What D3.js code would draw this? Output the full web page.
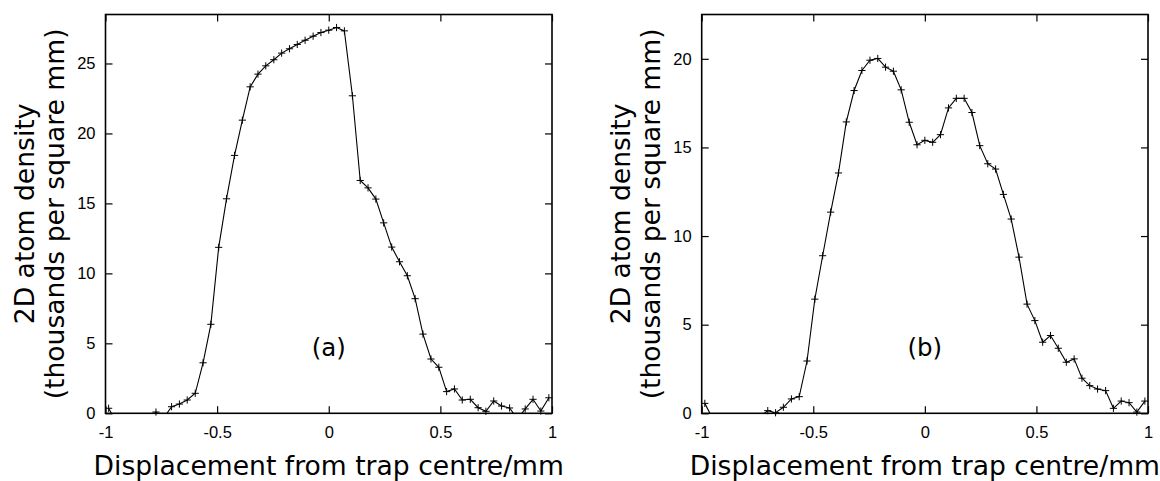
<!DOCTYPE html>
<html>
<head>
<meta charset="utf-8">
<script src="https://cdn.jsdelivr.net/npm/d3@7"></script>
<style>
  html, body { margin: 0; padding: 0; background: #fff; }
  svg { display: block; }
</style>
</head>
<body>
<svg id="chart" width="1160" height="481"></svg>
<script>
// ---- data ----
const displacement = [-0.986, -0.950, -0.915, -0.880, -0.845, -0.810, -0.774, -0.739, -0.704, -0.669,
  -0.634, -0.598, -0.563, -0.528, -0.493, -0.458, -0.422, -0.387, -0.352, -0.317,
  -0.282, -0.246, -0.211, -0.176, -0.141, -0.106, -0.070, -0.035, 0.000, 0.035,
  0.070, 0.106, 0.141, 0.176, 0.211, 0.246, 0.282, 0.317, 0.352, 0.387,
  0.422, 0.458, 0.493, 0.528, 0.563, 0.598, 0.634, 0.669, 0.704, 0.739,
  0.774, 0.810, 0.845, 0.880, 0.915, 0.950, 0.986];

const densityA = [0.36, -0.67, -0.9, -0.7, -0.8, -0.5, 0.09, -0.33, 0.47, 0.66,
  0.95, 1.43, 3.61, 6.36, 11.86, 15.33, 18.43, 20.95, 23.33, 24.24,
  24.83, 25.27, 25.74, 26.05, 26.36, 26.66, 26.95, 27.21, 27.38, 27.57,
  27.33, 22.69, 16.64, 16.11, 15.31, 13.61, 11.88, 10.83, 9.83, 8.19,
  5.66, 3.88, 3.29, 1.55, 1.74, 0.95, 1.00, 0.40, 0.14, 0.88,
  0.52, 0.38, -0.4, 0.31, 1.00, 0.16, 1.11];

const densityB = [0.56, -0.32, -0.6, -0.8, -0.5, -0.7, -0.4, -0.2, 0.15, 0.03,
  0.34, 0.81, 0.94, 2.95, 6.44, 8.89, 11.35, 13.56, 16.44, 18.21,
  19.34, 19.92, 20.02, 19.53, 19.30, 18.25, 16.42, 15.15, 15.40, 15.29,
  15.72, 17.23, 17.77, 17.77, 16.97, 15.10, 14.08, 13.78, 12.35, 10.96,
  8.81, 6.16, 5.23, 4.01, 4.39, 3.67, 2.88, 3.07, 1.98, 1.56,
  1.37, 1.28, 0.28, 0.69, 0.60, 0.07, 0.69];

const xTicks = [-1, -0.5, 0, 0.5, 1];
const xTickLabels = ["-1", "-0.5", "0", "0.5", "1"];
const yTicksA = [0, 5, 10, 15, 20, 25];
const yTicksB = [0, 5, 10, 15, 20];
const panelLabels = ["(a)", "(b)"];
const xTitle = "Displacement from trap centre/mm";
const yTitle1 = "2D atom density";
const yTitle2 = "(thousands per square mm)";

// ---- drawing ----
const svg = d3.select("#chart");
svg.append("rect").attr("width", 1160).attr("height", 481).attr("fill", "#fff");

const panels = [
  { left: 105.5, right: 552, top: 14.5, bottom: 413.3, ymax: 28.5, values: densityA, yTicks: yTicksA, label: panelLabels[0] },
  { left: 701.7, right: 1148, top: 14.5, bottom: 413.3, ymax: 22.5, values: densityB, yTicks: yTicksB, label: panelLabels[1] }
];

const tickFont = "'Liberation Sans', Arial, sans-serif";
const titleFont = "'DejaVu Sans', sans-serif";

panels.forEach((p, pi) => {
  const x = d3.scaleLinear().domain([-1, 1]).range([p.left, p.right]);
  const y = d3.scaleLinear().domain([0, p.ymax]).range([p.bottom, p.top]);
  const g = svg.append("g");

  const clipId = "clip" + pi;
  svg.append("defs").append("clipPath").attr("id", clipId)
    .append("rect").attr("x", p.left).attr("y", p.top)
    .attr("width", p.right - p.left).attr("height", p.bottom - p.top);

  const fmt = d => xTickLabels[xTicks.indexOf(d)];

  // axes (ticks inward)
  const ax = [
    g.append("g").attr("transform", `translate(0,${p.bottom})`)
      .call(d3.axisBottom(x).tickValues(xTicks).tickFormat(fmt).tickSizeInner(-7).tickSizeOuter(0).tickPadding(13)),
    g.append("g").attr("transform", `translate(0,${p.top})`)
      .call(d3.axisTop(x).tickValues(xTicks).tickFormat("").tickSizeInner(-7).tickSizeOuter(0)),
    g.append("g").attr("transform", `translate(${p.left},0)`)
      .call(d3.axisLeft(y).tickValues(p.yTicks).tickFormat(d3.format("d")).tickSizeInner(-7).tickSizeOuter(0).tickPadding(10)),
    g.append("g").attr("transform", `translate(${p.right},0)`)
      .call(d3.axisRight(y).tickValues(p.yTicks).tickFormat("").tickSizeInner(-7).tickSizeOuter(0))
  ];
  ax.forEach(a => {
    a.select(".domain").remove();
    a.selectAll("line").attr("stroke", "#000").attr("stroke-width", 1.2);
    a.selectAll("text").attr("fill", "#000").style("font-family", tickFont).style("font-size", "16.5px");
  });

  const pts = displacement.map((d, i) => [d, p.values[i]]);

  // data line
  g.append("path")
    .datum(pts)
    .attr("clip-path", `url(#${clipId})`)
    .attr("fill", "none")
    .attr("stroke", "#000")
    .attr("stroke-width", 1.1)
    .attr("d", d3.line().x(d => x(d[0])).y(d => y(d[1])));

  // cross markers
  const arm = 3.6;
  g.append("g").selectAll("path")
    .data(pts.filter(d => d[1] >= 0 && d[1] <= p.ymax))
    .join("path")
    .attr("fill", "none")
    .attr("stroke", "#000")
    .attr("stroke-width", 1)
    .attr("d", d => {
      const cx = x(d[0]), cy = y(d[1]);
      return `M${cx - arm},${cy}H${cx + arm}M${cx},${cy - arm}V${cy + arm}`;
    });

  // border
  g.append("rect")
    .attr("x", p.left).attr("y", p.top)
    .attr("width", p.right - p.left).attr("height", p.bottom - p.top)
    .attr("fill", "none").attr("stroke", "#000").attr("stroke-width", 1.6);

  // panel label
  g.append("text")
    .attr("x", x(0)).attr("y", p.bottom - 57)
    .attr("text-anchor", "middle")
    .style("font-family", titleFont).style("font-size", "24.5px")
    .text(p.label);

  // x title
  g.append("text")
    .attr("x", (p.left + p.right) / 2).attr("y", 475)
    .attr("text-anchor", "middle")
    .style("font-family", titleFont).style("font-size", "26.6px")
    .text(xTitle);

  // y title (two lines)
  const cy = (p.top + p.bottom) / 2;
  g.append("text")
    .attr("transform", `translate(${p.left - 72},${cy}) rotate(-90)`)
    .attr("text-anchor", "middle")
    .style("font-family", titleFont).style("font-size", "26.6px")
    .text(yTitle1);
  g.append("text")
    .attr("transform", `translate(${p.left - 42},${cy}) rotate(-90)`)
    .attr("text-anchor", "middle")
    .style("font-family", titleFont).style("font-size", "26.6px")
    .text(yTitle2);
});
</script>
</body>
</html>
